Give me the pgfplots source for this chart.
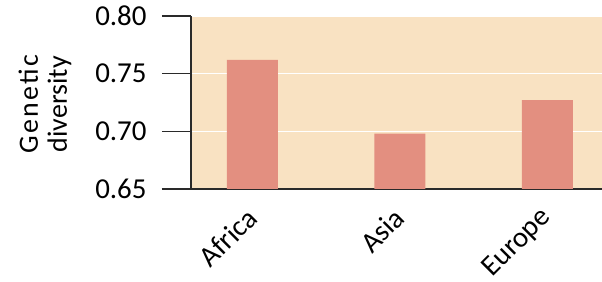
\documentclass[border=0pt]{standalone}
\usepackage{pgfplots}
\pgfplotsset{compat=1.18}
\usepackage{fontspec}
\setmainfont{Carlito}
\definecolor{bg}{HTML}{F9E2C2}
\definecolor{barc}{HTML}{E38F80}
\definecolor{ax}{HTML}{2A2A2A}
\begin{document}
\begin{tikzpicture}
\begin{axis}[
  set layers,
  anchor=south west, at={(0,0)},
  width=411bp, height=173bp, scale only axis,
  xmin=-0.417, xmax=2.37, ymin=0.65, ymax=0.80,
  axis lines=left,
  axis line style={-, ax, line width=1.6bp, on layer=axis foreground},
  x axis line style={shorten <=-29bp},
  axis background/.style={fill=bg},
  ytick={0.65,0.70,0.75,0.80},
  yticklabel style={/pgf/number format/fixed, /pgf/number format/fixed zerofill, /pgf/number format/precision=2, xshift=-12bp},
  /pgf/number format/assume math mode=true,
  tick align=outside, major tick length=29bp,
  ytick style={ax, line width=1.6bp},
  xtick={0,1,2}, xticklabels={Africa,Asia,Europe},
  x tick style={draw=none},
  xticklabel style={yshift=7bp, xshift=2bp, rotate=45, anchor=east},
  ymajorgrids, grid style={white, line width=1.5bp},
  tick label style={font=\fontsize{29}{31}\selectfont},
  ylabel={{\addfontfeatures{LetterSpace=8}Genetic}\\diversity},
  every axis y label/.style={at={(rel axis cs:0,0.49)}, xshift=-146bp, rotate=90, anchor=center, align=center, font=\fontsize{28}{29}\selectfont},
  ybar, bar width=51bp,
]
\addplot[fill=barc, draw=none] coordinates {(0,0.762) (1,0.698) (2,0.727)};
\end{axis}
\pgfresetboundingbox
\path[use as bounding box] (-191bp,-93bp) rectangle (411bp,189bp);
\end{tikzpicture}
\end{document}
